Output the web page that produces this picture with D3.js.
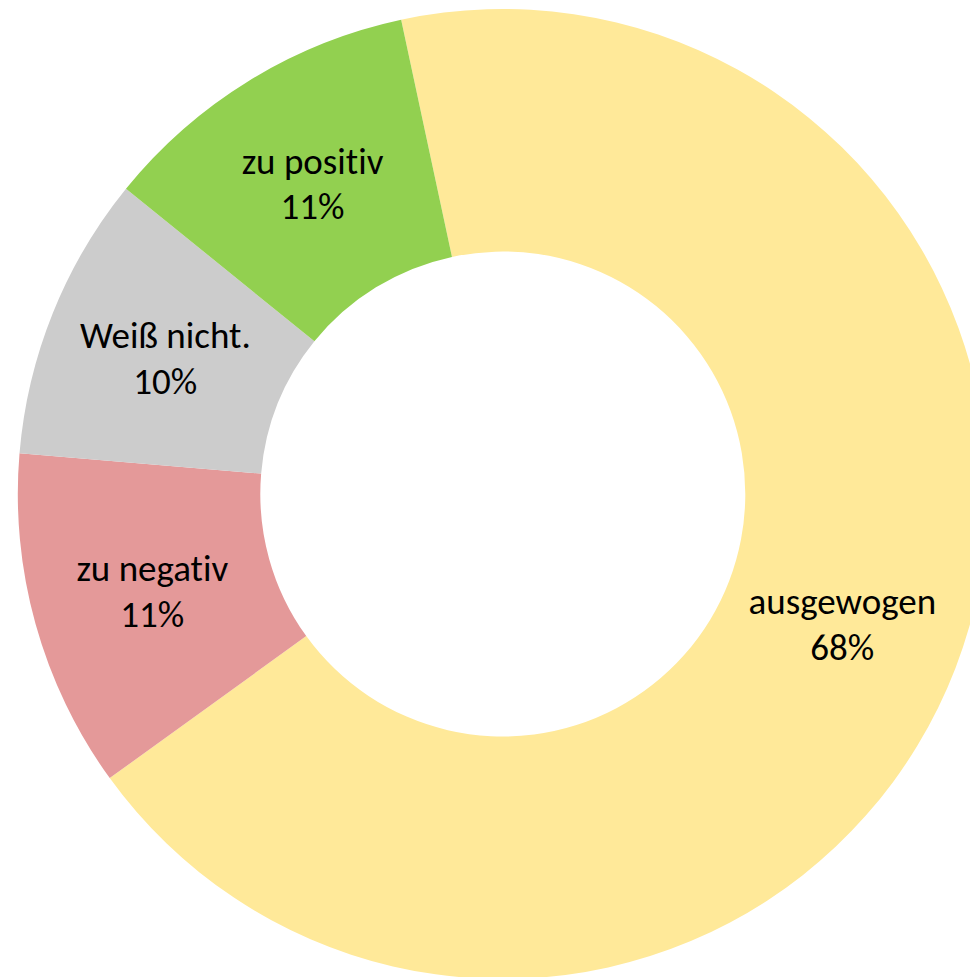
<!DOCTYPE html>
<html>
<head>
<meta charset="utf-8">
<script src="https://cdn.jsdelivr.net/npm/d3@7"></script>
<style>
  html, body { margin: 0; padding: 0; background: #fff; }
  svg { display: block; }
</style>
</head>
<body>
<div id="chart"></div>
<script>
// slices in clockwise order, starting just left of 12 o'clock
const categories = ["ausgewogen", "zu negativ", "Weiß nicht.", "zu positiv"];
const shares = [68.4, 11.3, 9.5, 10.8];
const colors = ["#FFE999", "#E49999", "#CCCCCC", "#92D050"];

const width = 970;
const height = 977;
const cx = 502.8;
const cy = 494;
const outerRadius = 485;
const innerRadius = 242.5;
const firstSliceAngle = -12.1; // degrees

const slices = categories.map((name, i) => ({ name, value: shares[i], color: colors[i] }));

const pie = d3.pie()
    .sort(null)
    .value((d) => d.value)
    .startAngle(firstSliceAngle * Math.PI / 180)
    .endAngle(firstSliceAngle * Math.PI / 180 + 2 * Math.PI);

const arc = d3.arc()
    .innerRadius(innerRadius)
    .outerRadius(outerRadius);

const svg = d3.select("#chart")
    .append("svg")
    .attr("width", width)
    .attr("height", height)
    .attr("viewBox", [0, 0, width, height]);

const g = svg.append("g").attr("transform", `translate(${cx},${cy})`);

const arcs = pie(slices);

g.append("g")
    .selectAll("path")
    .data(arcs)
    .join("path")
    .attr("d", arc)
    .attr("fill", (d) => d.data.color);

const labels = g.append("g")
    .selectAll("text")
    .data(arcs)
    .join("text")
    .attr("transform", (d) => `translate(${arc.centroid(d)})`)
    .attr("text-anchor", "middle")
    .attr("fill", "#000")
    .style("font-family", "Carlito, Calibri, Lato, sans-serif")
    .style("font-size", "37px")
    .style("font-variant-ligatures", "none");

labels.append("tspan")
    .attr("x", 0)
    .attr("y", -10)
    .text((d) => d.data.name);

labels.append("tspan")
    .attr("x", 0)
    .attr("y", 35.5)
    .text((d) => `${Math.round(d.data.value)}%`);
</script>
</body>
</html>
